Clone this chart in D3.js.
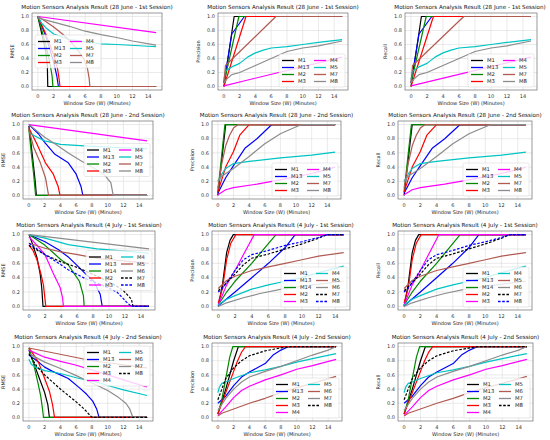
<!DOCTYPE html>
<html>
<head>
<meta charset="utf-8">
<script src="https://cdn.jsdelivr.net/npm/d3@7"></script>
<style>
  html, body { margin: 0; padding: 0; background: #fff; }
  svg { display: block; font-family: "DejaVu Sans", sans-serif; }
</style>
</head>
<body>
<svg id="chart" width="550" height="440"></svg>
<script>
/* ============================================================
   DATA
   ============================================================ */
const xTicks = [0, 2, 4, 6, 8, 10, 12, 14];
const yTicks = [0, 0.2, 0.4, 0.6, 0.8, 1.0];

const titles = [
  'Motion Sensors Analysis Result (28 June - 1st Session)',
  'Motion Sensors Analysis Result (28 June - 2nd Session)',
  'Motion Sensors Analysis Result (4 July - 1st Session)',
  'Motion Sensors Analysis Result (4 July - 2nd Session)',
];
const metricLabels = ['RMSE', 'Precision', 'Recall'];
const xLabel = 'Window Size (W) (Minutes)';

// 28 June, 1st session
const rmseJune1 = [
  ['M1',  [[0,1],[0.5,0.75],[1,0.5],[1.2,0.3],[1.25,0],[15,0]]],
  ['M13', [[0,1],[1,0.72],[2,0.35],[2.4,0.15],[2.6,0],[15,0]]],
  ['M2',  [[0,1],[0.5,0.8],[1,0.6],[1.5,0.35],[1.8,0.15],[1.9,0],[15,0]]],
  ['M3',  [[0,1],[1,0.75],[2,0.45],[2.5,0.25],[2.7,0.1],[2.8,0],[15,0]]],
  ['M4',  [[0,1],[15,0.77]]],
  ['M5',  [[0,1],[0.5,0.9],[1,0.84],[2,0.75],[4,0.67],[6,0.64],[8,0.61],[10,0.6],[14,0.575],[15,0.57]]],
  ['M7',  [[0,1],[1,0.93],[2,0.85],[3,0.76],[4,0.66],[5,0.53],[5.8,0.4],[6.3,0.25],[6.5,0.12],[6.6,0],[15,0]]],
  ['M8',  [[0,1],[0.3,0.97],[2,0.92],[4,0.86],[6,0.79],[8,0.74],[10,0.7],[12,0.65],[15,0.59]]],
];
const precJune1 = [
  ['M1',  [[0,0],[1.3,1],[15,1]]],
  ['M13', [[0,0.05],[1,0.75],[2.6,1],[15,1]]],
  ['M2',  [[0,0.05],[1.9,1],[15,1]]],
  ['M3',  [[0,0],[2.8,1],[15,1]]],
  ['M4',  [[0,0.01],[15,0.42]]],
  ['M5',  [[0,0.1],[0.2,0.22],[1,0.28],[2,0.33],[3,0.42],[4,0.48],[5,0.52],[6,0.55],[8,0.57],[10,0.6],[12,0.63],[15,0.67]]],
  ['M7',  [[0,0.05],[0.2,0.3],[6.6,1],[15,1]]],
  ['M8',  [[0,0.05],[0.3,0.1],[1,0.17],[2,0.2],[4,0.3],[6,0.4],[8,0.5],[10,0.55],[12,0.58],[15,0.65]]],
];

// 28 June, 2nd session
const rmseJune2 = [
  ['M1',  [[0,0.98],[0.3,0.7],[0.6,0.4],[0.8,0.2],[0.95,0],[15,0]]],
  ['M13', [[0,1],[1.2,0.87],[2,0.75],[3.3,0.58],[5,0.46],[6,0.3],[6.6,0.13],[6.85,0],[15,0]]],
  ['M2',  [[0,0.93],[0.3,0.6],[0.6,0.3],[0.85,0],[15,0]]],
  ['M3',  [[0,0.95],[1,0.73],[2.1,0.46],[3.1,0.3],[3.7,0.13],[3.95,0],[15,0]]],
  ['M4',  [[0,1],[15,0.77]]],
  ['M5',  [[0,0.88],[2,0.77],[4,0.72],[7,0.7],[10.4,0.68],[15,0.66]]],
  ['M7',  [[0,0.93],[0.6,0.68],[1.45,0.46],[2.1,0.25],[2.5,0],[15,0]]],
  ['M8',  [[0,1],[2,0.82],[3.3,0.73],[5,0.6],[6.6,0.49],[8,0.4],[9.5,0.3],[10.4,0.18],[10.7,0],[15,0]]],
];
const precJune2 = [
  ['M1',  [[0,0],[1,1],[15,1]]],
  ['M13', [[0,0.03],[1,0.25],[2,0.42],[3.5,0.67],[5,0.8],[6.9,1],[15,1]]],
  ['M2',  [[0,0.05],[0.9,1],[15,1]]],
  ['M3',  [[0,0.05],[1,0.4],[2,0.62],[2.8,0.85],[4,1],[15,1]]],
  ['M4',  [[0,0.01],[1,0.08],[2,0.11],[5,0.16],[8,0.22],[12,0.31],[15,0.4]]],
  ['M5',  [[0,0.2],[0.5,0.3],[1,0.38],[2,0.45],[4,0.48],[8,0.53],[12,0.57],[15,0.61]]],
  ['M7',  [[0,0.1],[0.5,0.45],[1,0.7],[1.5,0.85],[2,0.95],[2.6,1],[15,1]]],
  ['M8',  [[0,0.2],[0.5,0.27],[2,0.38],[4,0.55],[6,0.73],[8,0.87],[9,0.92],[10.7,1],[15,1]]],
];

// 4 July, 1st session
const rmseJuly1 = [
  ['M1',  [[0,1],[0.5,0.85],[1,0.68],[1.4,0.45],[1.6,0.25],[1.75,0],[15,0]]],
  ['M13', [[0,1],[2,0.9],[3.7,0.79],[5,0.68],[6.1,0.56],[7,0.46],[8.1,0.35],[8.9,0.17],[9.15,0],[15,0]]],
  ['M14', [[0,1],[2,0.85],[3,0.75],[4,0.65],[4.9,0.58],[5.5,0.48],[6.3,0.35],[6.8,0.15],[6.9,0],[15,0]]],
  ['M2',  [[0,0.85],[0.5,0.78],[1,0.65],[1.5,0.45],[1.8,0.3],[2,0.1],[2.1,0],[15,0]]],
  ['M3',  [[0,0.97],[1,0.85],[2,0.72],[3,0.47],[3.9,0.26],[4.2,0.12],[4.3,0],[15,0]]],
  ['M4',  [[0,1],[2,0.95],[4.9,0.86],[8.5,0.8],[12,0.77],[15,0.74]]],
  ['M5',  [[0,0.88],[2,0.81],[4,0.76],[6.1,0.72],[8.5,0.67],[12,0.63],[15,0.6]]],
  ['M6',  [[0,1],[15,0.8]]],
  ['M7',  [[0,0.85],[2,0.72],[4,0.62],[6.1,0.54],[8.9,0.4],[11,0.28],[11.8,0.22],[12.8,0.1],[13,0],[15,0]]],
  ['M8',  [[0,0.88],[2,0.72],[4,0.58],[4.9,0.51],[7,0.39],[8.9,0.31],[11,0.2],[12.2,0.06],[12.8,0],[15,0]]],
];
const precJuly1 = [
  ['M1',  [[0,0],[0.5,0.3],[1,0.75],[1.4,0.92],[1.8,1],[15,1]]],
  ['M13', [[0,0.01],[2,0.2],[4,0.4],[6,0.6],[8,0.82],[9.2,1],[15,1]]],
  ['M14', [[0,0.02],[1,0.2],[2,0.35],[4,0.6],[6.9,1],[15,1]]],
  ['M2',  [[0,0.05],[0.5,0.25],[1,0.65],[1.5,0.88],[2.1,1],[15,1]]],
  ['M3',  [[0,0.02],[1,0.3],[2,0.5],[3,0.72],[4.3,1],[15,1]]],
  ['M4',  [[0,0.02],[1,0.1],[2,0.15],[4,0.24],[6,0.3],[8,0.35],[10,0.4],[12,0.47],[15,0.56]]],
  ['M5',  [[0,0.25],[1,0.36],[2,0.42],[4,0.5],[6,0.55],[8,0.6],[10,0.65],[12,0.7],[15,0.75]]],
  ['M6',  [[0,0],[1,0.05],[3,0.12],[5,0.18],[8,0.25],[10,0.28],[12,0.31],[15,0.35]]],
  ['M7',  [[0,0.22],[0.5,0.27],[2,0.45],[3,0.58],[4,0.67],[6,0.73],[8,0.8],[10,0.87],[12,0.95],[13,1],[15,1]]],
  ['M8',  [[0,0.2],[0.5,0.25],[1,0.33],[2,0.5],[3,0.65],[4,0.72],[6,0.78],[8,0.85],[10,0.9],[12,0.96],[13,1],[15,1]]],
];

// 4 July, 2nd session
const rmseJuly2 = [
  ['M1',  [[0,0.95],[0.5,0.8],[1,0.65],[1.5,0.5],[2,0.35],[2.4,0.18],[2.6,0],[15,0]]],
  ['M13', [[0,0.88],[1,0.8],[2,0.71],[3,0.65],[4,0.6],[5,0.55],[6.5,0.41],[7.3,0.33],[8.1,0.23],[8.6,0.12],[8.9,0],[15,0]]],
  ['M2',  [[0,0.98],[0.5,0.8],[1.2,0.46],[1.5,0.3],[1.75,0.1],[1.85,0],[15,0]]],
  ['M3',  [[0,0.98],[0.5,0.9],[1.2,0.78],[2,0.55],[2.6,0.37],[3,0.18],[3.25,0],[15,0]]],
  ['M4',  [[0,0.95],[2,0.85],[4,0.79],[5.9,0.74],[8.9,0.64],[10,0.6],[12,0.53],[15,0.43]]],
  ['M5',  [[0,0.82],[0.3,0.75],[0.8,0.71],[2,0.66],[4,0.62],[6,0.56],[8.9,0.49],[10,0.45],[12,0.39],[15,0.31]]],
  ['M6',  [[0,0.98],[4.9,0.87],[8,0.8],[15,0.7]]],
  ['M7',  [[0,0.9],[2,0.78],[4,0.69],[6,0.59],[8.9,0.44],[10,0.38],[11.4,0.28],[12.3,0.2],[12.8,0.12],[13.2,0],[15,0]]],
  ['M8',  [[0,0.9],[1,0.72],[2,0.6],[3,0.5],[4,0.4],[5,0.31],[6,0.22],[7,0.12],[8,0],[15,0]]],
];
const precJuly2 = [
  ['M1',  [[0,0.05],[1,0.4],[2,0.8],[2.6,1],[15,1]]],
  ['M13', [[0,0.2],[1,0.3],[2,0.45],[3,0.57],[4,0.64],[5,0.7],[6,0.76],[7,0.88],[8,0.95],[9,1],[15,1]]],
  ['M2',  [[0,0.05],[0.5,0.25],[1,0.55],[1.5,0.85],[1.9,1],[15,1]]],
  ['M3',  [[0,0.05],[1,0.35],[2,0.65],[2.5,0.8],[3,0.92],[3.5,1],[15,1]]],
  ['M4',  [[0,0.03],[1,0.15],[2,0.28],[3,0.38],[4,0.44],[6,0.53],[8,0.6],[10,0.68],[12,0.73],[15,0.82]]],
  ['M5',  [[0,0.35],[0.2,0.43],[0.5,0.48],[1,0.5],[2,0.55],[4,0.63],[6,0.67],[8,0.72],[10,0.78],[12,0.83],[15,0.9]]],
  ['M6',  [[0,0.02],[0.5,0.06],[2,0.12],[4,0.2],[6,0.27],[8,0.35],[10,0.42],[12,0.48],[15,0.58]]],
  ['M7',  [[0,0.1],[1,0.27],[2,0.4],[3,0.5],[4,0.57],[6,0.65],[8,0.72],[10,0.8],[12,0.88],[14,0.95],[15,1]]],
  ['M8',  [[0,0.25],[0.5,0.4],[1,0.55],[2,0.7],[3,0.8],[4,0.87],[6,0.94],[8,0.98],[9,1],[15,1]]],
];

// recall curves coincide with precision curves in every session
const rowData = [
  [rmseJune1, precJune1, precJune1],
  [rmseJune2, precJune2, precJune2],
  [rmseJuly1, precJuly1, precJuly1],
  [rmseJuly2, precJuly2, precJuly2],
];

/* ============================================================
   STYLE & LAYOUT
   ============================================================ */
const COLORS = ['#000000', '#0000ff', '#008800', '#ff0000', '#ff00ff', '#00c4c4', '#b05a52', '#8c8c8c', '#000000', '#0000ff'];
const DASHED = [false, false, false, false, false, false, false, false, true, true];

const colX = [[[32, 162], [218, 348], [405, 537]],
              [[23, 153], [212, 341], [398, 532]],
              [[23, 155], [212, 350], [398, 532]],
              [[23, 153], [212, 342], [398, 533]]];
const rowY = [[13, 90], [121, 199], [231, 310], [343, 421]];
const rmseLegendLoc = ['center left', 'center right', 'center right', 'upper right'];

const svg = d3.select('#chart');

function drawPanel(row, col) {
  const [x0, x1] = colX[row][col];
  const [y0, y1] = rowY[row];
  const series = rowData[row][col];

  const x = d3.scaleLinear().domain([-0.75, 15.75]).range([x0, x1]);
  const y = d3.scaleLinear().domain([-0.05, 1.05]).range([y1, y0]);
  const g = svg.append('g');

  g.append('rect').attr('x', x0).attr('y', y0).attr('width', x1 - x0).attr('height', y1 - y0)
    .attr('fill', '#fff');

  // grid
  g.selectAll('.gx').data(xTicks).join('line')
    .attr('x1', d => x(d)).attr('x2', d => x(d)).attr('y1', y0).attr('y2', y1)
    .attr('stroke', '#dcdcdc').attr('stroke-width', 0.6);
  g.selectAll('.gy').data(yTicks).join('line').attr('class', 'gy')
    .attr('x1', x0).attr('x2', x1).attr('y1', d => y(d)).attr('y2', d => y(d))
    .attr('stroke', '#dcdcdc').attr('stroke-width', 0.6);

  // lines
  const clipId = `clip-${row}-${col}`;
  g.append('clipPath').attr('id', clipId).append('rect')
    .attr('x', x0).attr('y', y0).attr('width', x1 - x0).attr('height', y1 - y0);
  const lineFn = d3.line().x(d => x(d[0])).y(d => y(d[1]));
  const lg = g.append('g').attr('clip-path', `url(#${clipId})`);
  series.forEach(([name, pts], i) => {
    lg.append('path').attr('d', lineFn(pts)).attr('fill', 'none')
      .attr('stroke', COLORS[i]).attr('stroke-width', 1.2)
      .attr('stroke-dasharray', DASHED[i] ? '2.6,1.6' : null)
      .attr('stroke-linejoin', 'round');
  });

  // frame
  g.append('rect').attr('x', x0).attr('y', y0).attr('width', x1 - x0).attr('height', y1 - y0)
    .attr('fill', 'none').attr('stroke', '#6e6e6e').attr('stroke-width', 0.7);

  // ticks
  g.selectAll('.tx').data(xTicks).join('text')
    .attr('x', d => x(d)).attr('y', y1 + 7.5).attr('text-anchor', 'middle')
    .attr('font-size', '5px').attr('fill', '#333').text(d => d);
  g.selectAll('.ty').data(yTicks).join('text').attr('class', 'ty')
    .attr('x', x0 - 3).attr('y', d => y(d) + 1.7).attr('text-anchor', 'end')
    .attr('font-size', '5px').attr('fill', '#333').text(d => d.toFixed(1));

  // labels
  g.append('text').attr('x', (x0 + x1) / 2).attr('y', y1 + 15).attr('text-anchor', 'middle')
    .attr('font-size', '5px').attr('fill', '#222').text(xLabel);
  g.append('text').attr('transform', `translate(${x0 - 18},${(y0 + y1) / 2}) rotate(-90)`)
    .attr('text-anchor', 'middle').attr('font-size', '5px').attr('fill', '#222')
    .text(metricLabels[col]);
  const tx = Math.min((x0 + x1) / 2, 546 - 76);
  g.append('text').attr('x', tx).attr('y', y0 - 4).attr('text-anchor', 'middle')
    .attr('font-size', '5.6px').attr('fill', '#111').text(titles[row]);

  // legend
  const loc = col === 0 ? rmseLegendLoc[row] : 'lower right';
  const nRows = Math.ceil(series.length / 2);
  const rowH = 7, pad = 3, colW = 32;
  const lw = colW * 2 + 2, lh = nRows * rowH + pad * 2 - 1;
  let lx = loc.includes('left') ? x0 + 3 : x1 - 3 - lw;
  let ly = loc.startsWith('upper') ? y0 + 3 : loc.startsWith('lower') ? y1 - 3 - lh : (y0 + y1) / 2 - lh / 2;
  const leg = g.append('g').attr('transform', `translate(${lx},${ly})`);
  leg.append('rect').attr('width', lw).attr('height', lh).attr('rx', 1.5)
    .attr('fill', 'rgba(255,255,255,0.8)').attr('stroke', '#d0d0d0').attr('stroke-width', 0.5);
  series.forEach(([name], i) => {
    const c = Math.floor(i / nRows), r = i % nRows;
    const ex = 3 + c * colW, ey = pad + r * rowH + rowH / 2;
    leg.append('line').attr('x1', ex).attr('x2', ex + 12).attr('y1', ey).attr('y2', ey)
      .attr('stroke', COLORS[i]).attr('stroke-width', 1.3)
      .attr('stroke-dasharray', DASHED[i] ? '2.6,1.6' : null);
    leg.append('text').attr('x', ex + 16).attr('y', ey + 1.9)
      .attr('font-size', '5.3px').attr('fill', '#222').text(name);
  });
}

for (let r = 0; r < 4; r++) {
  for (let c = 0; c < 3; c++) drawPanel(r, c);
}
</script>
</body>
</html>
